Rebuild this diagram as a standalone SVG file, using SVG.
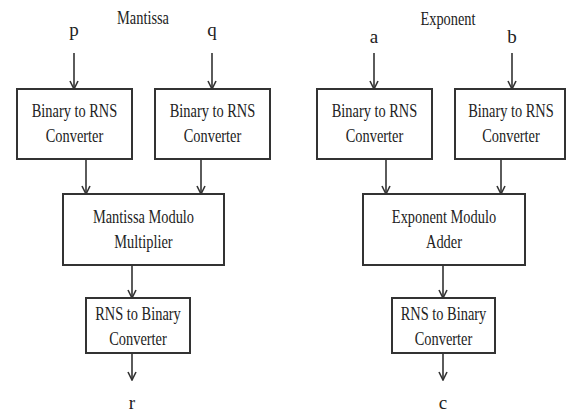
<svg xmlns="http://www.w3.org/2000/svg" width="567" height="414" viewBox="0 0 567 414">
<defs>
<style>
.box{fill:#fff;stroke:#333;stroke-width:2}
.t{font-family:"Liberation Serif","Times New Roman",serif;font-size:18px;fill:#222;text-anchor:middle}
.l{font-size:19px}
.c{stroke:#333;stroke-width:1.6;fill:none;marker-end:url(#ah)}
</style>
<marker id="ah" viewBox="0 0 10 10" refX="9" refY="5" markerWidth="10" markerHeight="10" markerUnits="userSpaceOnUse" orient="auto">
<polyline points="1,1 9,5 1,9" fill="none" stroke="#333" stroke-width="1.6"/>
</marker>
</defs>
<rect width="567" height="414" fill="#fff"/>
<text class="t" transform="translate(143,24) scale(0.8,1)">Mantissa</text>
<text class="t" transform="translate(448,25) scale(0.8,1)">Exponent</text>
<text class="t l" x="74" y="36">p</text>
<text class="t l" x="212" y="36">q</text>
<text class="t l" x="374" y="43">a</text>
<text class="t l" x="512" y="43">b</text>
<text class="t l" x="132" y="409">r</text>
<text class="t l" x="443" y="409">c</text>
<g id="b2r1"><rect class="box" x="17" y="89" width="115" height="70"/>
<text class="t" transform="translate(74.5,117) scale(0.8,1)">Binary to RNS</text>
<text class="t" transform="translate(74.5,142) scale(0.8,1)">Converter</text></g>
<g id="b2r2"><rect class="box" x="155" y="89" width="115" height="70"/>
<text class="t" transform="translate(212.5,117) scale(0.8,1)">Binary to RNS</text>
<text class="t" transform="translate(212.5,142) scale(0.8,1)">Converter</text></g>
<g id="b2r3"><rect class="box" x="317" y="89" width="115" height="70"/>
<text class="t" transform="translate(374.5,117) scale(0.8,1)">Binary to RNS</text>
<text class="t" transform="translate(374.5,142) scale(0.8,1)">Converter</text></g>
<g id="b2r4"><rect class="box" x="455" y="89" width="110" height="70"/>
<text class="t" transform="translate(511,117) scale(0.8,1)">Binary to RNS</text>
<text class="t" transform="translate(511,142) scale(0.8,1)">Converter</text></g>
<g id="mult"><rect class="box" x="63" y="194" width="161" height="71"/>
<text class="t" transform="translate(143.5,223) scale(0.8,1)">Mantissa Modulo</text>
<text class="t" transform="translate(143.5,248) scale(0.8,1)">Multiplier</text></g>
<g id="adder"><rect class="box" x="363" y="194" width="162" height="71"/>
<text class="t" transform="translate(444,223) scale(0.8,1)">Exponent Modulo</text>
<text class="t" transform="translate(444,248) scale(0.8,1)">Adder</text></g>
<g id="r2b1"><rect class="box" x="86" y="298" width="104" height="55"/>
<text class="t" transform="translate(138,320) scale(0.8,1)">RNS to Binary</text>
<text class="t" transform="translate(138,345) scale(0.8,1)">Converter</text></g>
<g id="r2b2"><rect class="box" x="392" y="298" width="103" height="55"/>
<text class="t" transform="translate(443.5,320) scale(0.8,1)">RNS to Binary</text>
<text class="t" transform="translate(443.5,345) scale(0.8,1)">Converter</text></g>
<g id="connectors">
<line class="c" x1="74" y1="53" x2="74" y2="89"/>
<line class="c" x1="212" y1="53" x2="212" y2="89"/>
<line class="c" x1="374" y1="53" x2="374" y2="89"/>
<line class="c" x1="512" y1="53" x2="512" y2="89"/>
<line class="c" x1="86" y1="159" x2="86" y2="194"/>
<line class="c" x1="201" y1="159" x2="201" y2="194"/>
<line class="c" x1="386" y1="159" x2="386" y2="194"/>
<line class="c" x1="501" y1="159" x2="501" y2="194"/>
<line class="c" x1="132" y1="265" x2="132" y2="298"/>
<line class="c" x1="443" y1="265" x2="443" y2="298"/>
<line class="c" x1="132" y1="353" x2="132" y2="380"/>
<line class="c" x1="443" y1="353" x2="443" y2="380"/>
</g>
</svg>
